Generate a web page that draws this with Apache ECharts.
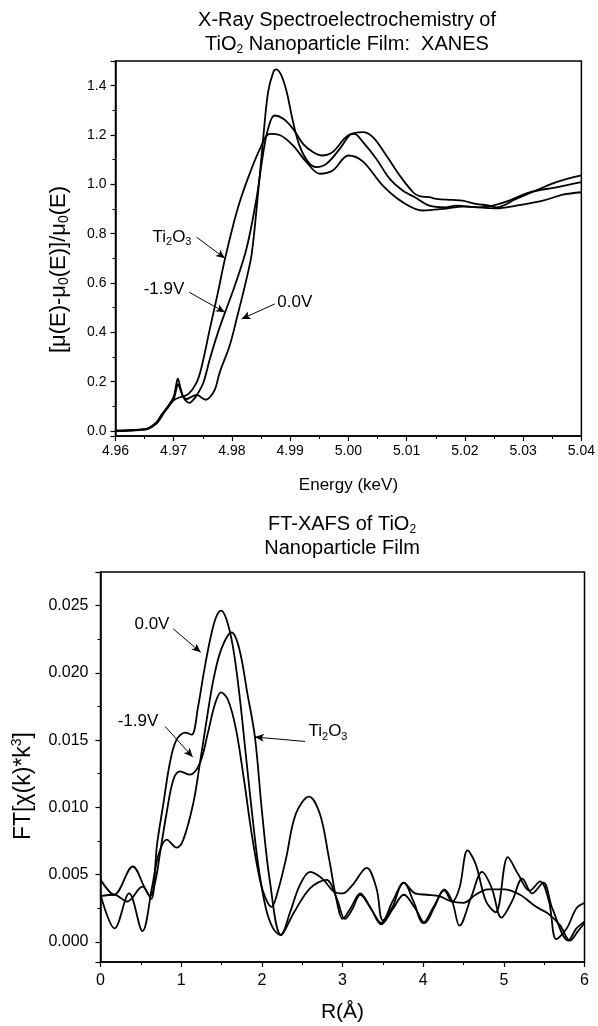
<!DOCTYPE html>
<html><head><meta charset="utf-8">
<script src="https://cdn.jsdelivr.net/npm/echarts@6/dist/echarts.min.js"></script>
<style>html,body{margin:0;padding:0;background:#fff}#c{width:598px;height:1026px}</style>
</head><body><div id="c"></div>
<script>
// ---------- XANES (top) ----------
const xanesEnergyTi2O3 = [4.960,4.962,4.964,4.9655,4.967,4.968,4.969,4.970,4.9711,4.9725,4.9739,4.9748,4.9762,4.9776,4.9788,4.9808,4.9825,4.9848,4.9865,4.9882,4.9905,4.9928,4.9951,4.9973,5.0000,5.0025,5.0059,5.0093,5.0128,5.0168,5.0196,5.0254,5.0288,5.0334,5.0368,5.0400];
const xanesTi2O3       = [0.003,0.004,0.006,0.010,0.030,0.062,0.100,0.125,0.137,0.150,0.195,0.262,0.414,0.563,0.698,0.887,1.009,1.144,1.205,1.200,1.157,1.090,1.043,1.056,1.117,1.092,0.995,0.928,0.894,0.902,0.910,0.903,0.914,0.934,0.958,0.968];

const xanesEnergyM19 = [4.960,4.962,4.964,4.9655,4.967,4.968,4.969,4.9700,4.9704,4.9707,4.9711,4.9716,4.9722,4.9727,4.9733,4.9739,4.9751,4.9762,4.9776,4.9788,4.9805,4.9825,4.9842,4.9853,4.9862,4.9873,4.9888,4.9905,4.9922,4.9939,4.9954,4.9973,4.9999,5.0025,5.0042,5.0065,5.0088,5.0111,5.0122,5.0139,5.0151,5.0179,5.0196,5.0219,5.0242,5.0254,5.0288,5.0322,5.0357,5.0400];
const xanesM19       = [0.000,0.002,0.005,0.010,0.035,0.070,0.100,0.140,0.185,0.212,0.180,0.140,0.120,0.114,0.125,0.143,0.197,0.292,0.400,0.480,0.590,0.740,0.941,1.117,1.225,1.279,1.266,1.225,1.164,1.131,1.117,1.131,1.198,1.212,1.191,1.117,1.036,0.968,0.952,0.948,0.941,0.937,0.934,0.921,0.914,0.907,0.941,0.975,1.009,1.036];

const xanesEnergy00 = [4.960,4.962,4.964,4.9655,4.967,4.968,4.969,4.9700,4.9704,4.9707,4.9711,4.9716,4.9722,4.9730,4.9740,4.9748,4.9755,4.9762,4.9771,4.9779,4.9796,4.9808,4.9825,4.9834,4.9845,4.9853,4.9862,4.9871,4.9876,4.9885,4.9894,4.9905,4.9916,4.9931,4.9945,4.9962,4.9985,5.0002,5.0010,5.0025,5.0048,5.0071,5.0093,5.0114,5.0139,5.0168,5.0185,5.0225,5.0248,5.0276,5.0311,5.0357,5.0400];
const xanes00       = [0.000,0.001,0.004,0.008,0.030,0.065,0.095,0.130,0.165,0.190,0.170,0.140,0.130,0.138,0.147,0.135,0.127,0.137,0.170,0.238,0.346,0.454,0.617,0.720,0.968,1.171,1.374,1.455,1.466,1.441,1.374,1.252,1.157,1.090,1.070,1.083,1.144,1.200,1.205,1.171,1.103,1.022,0.975,0.948,0.914,0.907,0.914,0.907,0.914,0.934,0.968,0.988,1.009];

// ---------- FT-XAFS (bottom) ----------
const ftR00 = [0.00,0.17,0.40,0.55,0.63,0.70,0.78,0.86,0.94,1.05,1.13,1.21,1.28,1.36,1.43,1.494,1.56,1.64,1.72,1.80,1.88,1.96,2.05,2.14,2.23,2.35,2.47,2.60,2.75,2.90,3.00,3.12,3.30,3.42,3.50,3.62,3.76,3.90,4.05,4.20,4.35,4.50,4.65,4.80,5.00,5.20,5.40,5.55,5.70,5.82,5.92,6.00];
const ft00  = [0.00463,0.0035,0.0056,0.0040,0.0032,0.0072,0.0103,0.0133,0.0150,0.01555,0.0154,0.0175,0.0200,0.0225,0.0241,0.02463,0.0240,0.0220,0.0185,0.0140,0.0095,0.0055,0.0025,0.0010,0.0005,0.0022,0.0042,0.0052,0.0047,0.0037,0.0036,0.0042,0.0055,0.0040,0.0016,0.0026,0.0044,0.0036,0.0035,0.0034,0.0030,0.0029,0.0035,0.0039,0.0039,0.0035,0.0026,0.0021,0.0012,0.0001,0.0008,0.0014];

const ftRM19 = [0.00,0.17,0.33,0.52,0.615,0.68,0.738,0.82,0.903,0.986,1.11,1.233,1.33,1.42,1.494,1.58,1.68,1.78,1.88,1.98,2.05,2.12,2.20,2.30,2.42,2.585,2.72,2.83,2.93,3.00,3.10,3.22,3.35,3.48,3.62,3.76,3.88,4.00,4.13,4.26,4.36,4.45,4.55,4.65,4.78,4.90,5.05,5.18,5.32,5.45,5.56,5.65,5.78,5.90,6.00];
const ftM19  = [0.0034,0.0035,0.0030,0.0041,0.0034,0.0045,0.0066,0.0096,0.01205,0.01267,0.01243,0.0133,0.0155,0.0177,0.01855,0.0180,0.0158,0.0120,0.0078,0.0045,0.0032,0.0026,0.0038,0.0062,0.0095,0.0108,0.0095,0.0063,0.0030,0.0017,0.0025,0.0036,0.0025,0.0014,0.0030,0.0044,0.0030,0.0014,0.0026,0.0038,0.0030,0.0040,0.0068,0.0058,0.0030,0.0022,0.0063,0.0050,0.0038,0.0045,0.0030,0.0002,0.0010,0.0025,0.0029];

const ftRTi2O3 = [0.00,0.175,0.355,0.52,0.64,0.72,0.82,0.944,1.027,1.15,1.233,1.316,1.40,1.50,1.626,1.72,1.82,1.915,2.00,2.10,2.24,2.40,2.60,2.80,2.93,3.03,3.12,3.22,3.35,3.48,3.62,3.76,3.90,4.02,4.14,4.26,4.36,4.45,4.60,4.73,4.85,4.97,5.10,5.23,5.35,5.49,5.60,5.80,5.90,6.00];
const ftTi2O3  = [0.0035,0.0010,0.0036,0.0008,0.0041,0.0065,0.0076,0.0070,0.0076,0.0103,0.0133,0.0165,0.0195,0.0218,0.0230,0.0218,0.0185,0.0152,0.0098,0.0045,0.0005,0.0022,0.0040,0.0046,0.0032,0.0017,0.0024,0.0035,0.0025,0.0013,0.0024,0.0035,0.0025,0.0014,0.0026,0.0039,0.0030,0.0012,0.0034,0.0052,0.0040,0.0018,0.0030,0.0047,0.0036,0.0044,0.0025,0.0001,0.0010,0.0015];

// tick label values
const xanesXTicks = [4.96,4.97,4.98,4.99,5.00,5.01,5.02,5.03,5.04];
const xanesYTicks = [0.0,0.2,0.4,0.6,0.8,1.0,1.2,1.4];
const ftXTicks = [0,1,2,3,4,5,6];
const ftYTicks = [0.000,0.005,0.010,0.015,0.020,0.025];

const zip = (a, b) => a.map((v, i) => [v, b[i]]);
const FONT = '"Liberation Sans", Arial, Helvetica, sans-serif';
const K = '#000';

const richBase = (size) => {
  const ss = Math.round(size * 0.62), lh = size + 4;
  return {
    n: {fontSize: size, fontFamily: FONT, fontWeight: 'normal', color: K, lineHeight: lh},
    s: {fontSize: ss, fontFamily: FONT, fontWeight: 'normal', color: K, lineHeight: ss, padding: [lh - ss, 0, 0, 0]},
    u: {fontSize: ss, fontFamily: FONT, fontWeight: 'normal', color: K, lineHeight: ss, padding: [0, 0, lh - ss, 0]}
  };
};

function arrow(p, q) {
  return [{coord: p, symbol: 'none'}, {coord: q, symbol: 'arrow', symbolSize: [6, 9]}];
}
function label(p, txt, size) {
  return {coord: p, symbol: 'circle', symbolSize: 1, itemStyle: {color: 'rgba(0,0,0,0)'},
    label: {show: true, position: 'inside', formatter: txt, rich: richBase(size), color: K}};
}

function lineSeries(name, data, xi, yi, marks) {
  const s = {
    name, type: 'line', xAxisIndex: xi, yAxisIndex: yi, data, showSymbol: false, smooth: 0.35,
    lineStyle: {color: K, width: 1.8}, itemStyle: {color: K}, silent: true, z: 3
  };
  if (marks) {
    s.markLine = {silent: true, animation: false, lineStyle: {color: K, width: 1, type: 'solid'}, label: {show: false}, data: marks.lines};
    s.markPoint = {silent: true, animation: false, data: marks.labels};
  }
  return s;
}

const axisCommon = () => ({
  axisLine: {show: true, onZero: false, lineStyle: {color: K, width: 1.5}},
  axisTick: {show: true, inside: false, length: 5, lineStyle: {color: K, width: 1.2}},
  minorTick: {show: true, splitNumber: 2, length: 3, lineStyle: {color: K, width: 1}},
  splitLine: {show: false}
});
const lab = (fs, extra) => Object.assign({color: K, fontFamily: FONT, fontSize: fs}, extra);

const chart = echarts.init(document.getElementById('c'), null, {renderer: 'canvas'});
chart.setOption({
  backgroundColor: '#fff',
  animation: false,
  title: [
    {text: '{n|X-Ray Spectroelectrochemistry of}\n{n|TiO}{s|2}{n| Nanoparticle Film:  XANES}', left: 342, top: 3, textAlign: 'center',
     textStyle: {fontWeight: 'normal', rich: richBase(20)}},
    {text: '{n|FT-XAFS of TiO}{s|2}\n{n|Nanoparticle Film}', left: 337, top: 507, textAlign: 'center',
     textStyle: {fontWeight: 'normal', rich: richBase(20)}}
  ],
  grid: [
    {left: 115.5, top: 61, width: 466.5, height: 375, show: true, borderColor: K, borderWidth: 1.5, backgroundColor: 'transparent'},
    {left: 100.5, top: 572, width: 484, height: 390, show: true, borderColor: K, borderWidth: 1.5, backgroundColor: 'transparent'}
  ],
  xAxis: [
    Object.assign(axisCommon(), {type: 'value', gridIndex: 0, min: xanesXTicks[0], max: xanesXTicks[xanesXTicks.length-1], interval: 0.01,
      name: 'Energy (keV)', nameLocation: 'middle', nameGap: 41, nameTextStyle: {color: K, fontFamily: FONT, fontSize: 17},
      axisLabel: lab(14, {margin: 8, formatter: v => v.toFixed(2)})}),
    Object.assign(axisCommon(), {type: 'value', gridIndex: 1, min: ftXTicks[0], max: ftXTicks[ftXTicks.length-1], interval: 1,
      name: 'R(Å)', nameLocation: 'middle', nameGap: 40, nameTextStyle: {color: K, fontFamily: FONT, fontSize: 21},
      axisLabel: lab(16, {margin: 11, formatter: v => String(Math.round(v))})})
  ],
  yAxis: [
    Object.assign(axisCommon(), {type: 'value', gridIndex: 0, min: -0.02, max: 1.5, splitNumber: 8,
      name: '{n|[μ(E)-μ}{s|0}{n|(E)]/μ}{s|0}{n|(E)}', nameLocation: 'middle', nameRotate: 90, nameGap: 44,
      nameTextStyle: {rich: richBase(22), padding: [0, 42, 0, 0]},
      axisLabel: lab(14, {margin: 9, showMinLabel: false, showMaxLabel: false, formatter: v => v.toFixed(1)})}),
    Object.assign(axisCommon(), {type: 'value', gridIndex: 1, min: -0.0015, max: 0.0275, splitNumber: 6,
      name: '{n|FT[χ(k)*k}{u|3}{n|]}', nameLocation: 'middle', nameRotate: 90, nameGap: 55,
      nameTextStyle: {rich: richBase(23), padding: [0, 38, 0, 0]},
      axisLabel: lab(16, {margin: 12, showMinLabel: false, showMaxLabel: false, formatter: v => v.toFixed(3)})})
  ],
  series: [
    lineSeries('Ti2O3', zip(xanesEnergyTi2O3, xanesTi2O3), 0, 0, {
      lines: [arrow([4.97392, 0.786], [4.97878, 0.7006])],
      labels: [label([4.9697, 0.787], '{n|Ti}{s|2}{n|O}{s|3}', 17)]}),
    lineSeries('-1.9V', zip(xanesEnergyM19, xanesM19), 0, 0, {
      lines: [arrow([4.97265, 0.5627], [4.97878, 0.4815])],
      labels: [label([4.96832, 0.573], '{n|-1.9V}', 17)]}),
    lineSeries('0.0V', zip(xanesEnergy00, xanes00), 0, 0, {
      lines: [arrow([4.98735, 0.5152], [4.98164, 0.4544])],
      labels: [label([4.99078, 0.523], '{n|0.0V}', 17)]}),
    lineSeries('0.0V FT', zip(ftR00, ft00), 1, 1, {
      lines: [arrow([0.902, 0.02327], [1.242, 0.02153])],
      labels: [label([0.638, 0.02359], '{n|0.0V}', 17)]}),
    lineSeries('-1.9V FT', zip(ftRM19, ftM19), 1, 1, {
      lines: [arrow([0.80, 0.01602], [1.143, 0.01374])],
      labels: [label([0.465, 0.01637], '{n|-1.9V}', 17)]}),
    lineSeries('Ti2O3 FT', zip(ftRTi2O3, ftTi2O3), 1, 1, {
      lines: [arrow([2.535, 0.0149], [1.915, 0.01523])],
      labels: [label([2.82, 0.015625], '{n|Ti}{s|2}{n|O}{s|3}', 17)]})
  ]
});
</script></body></html>
